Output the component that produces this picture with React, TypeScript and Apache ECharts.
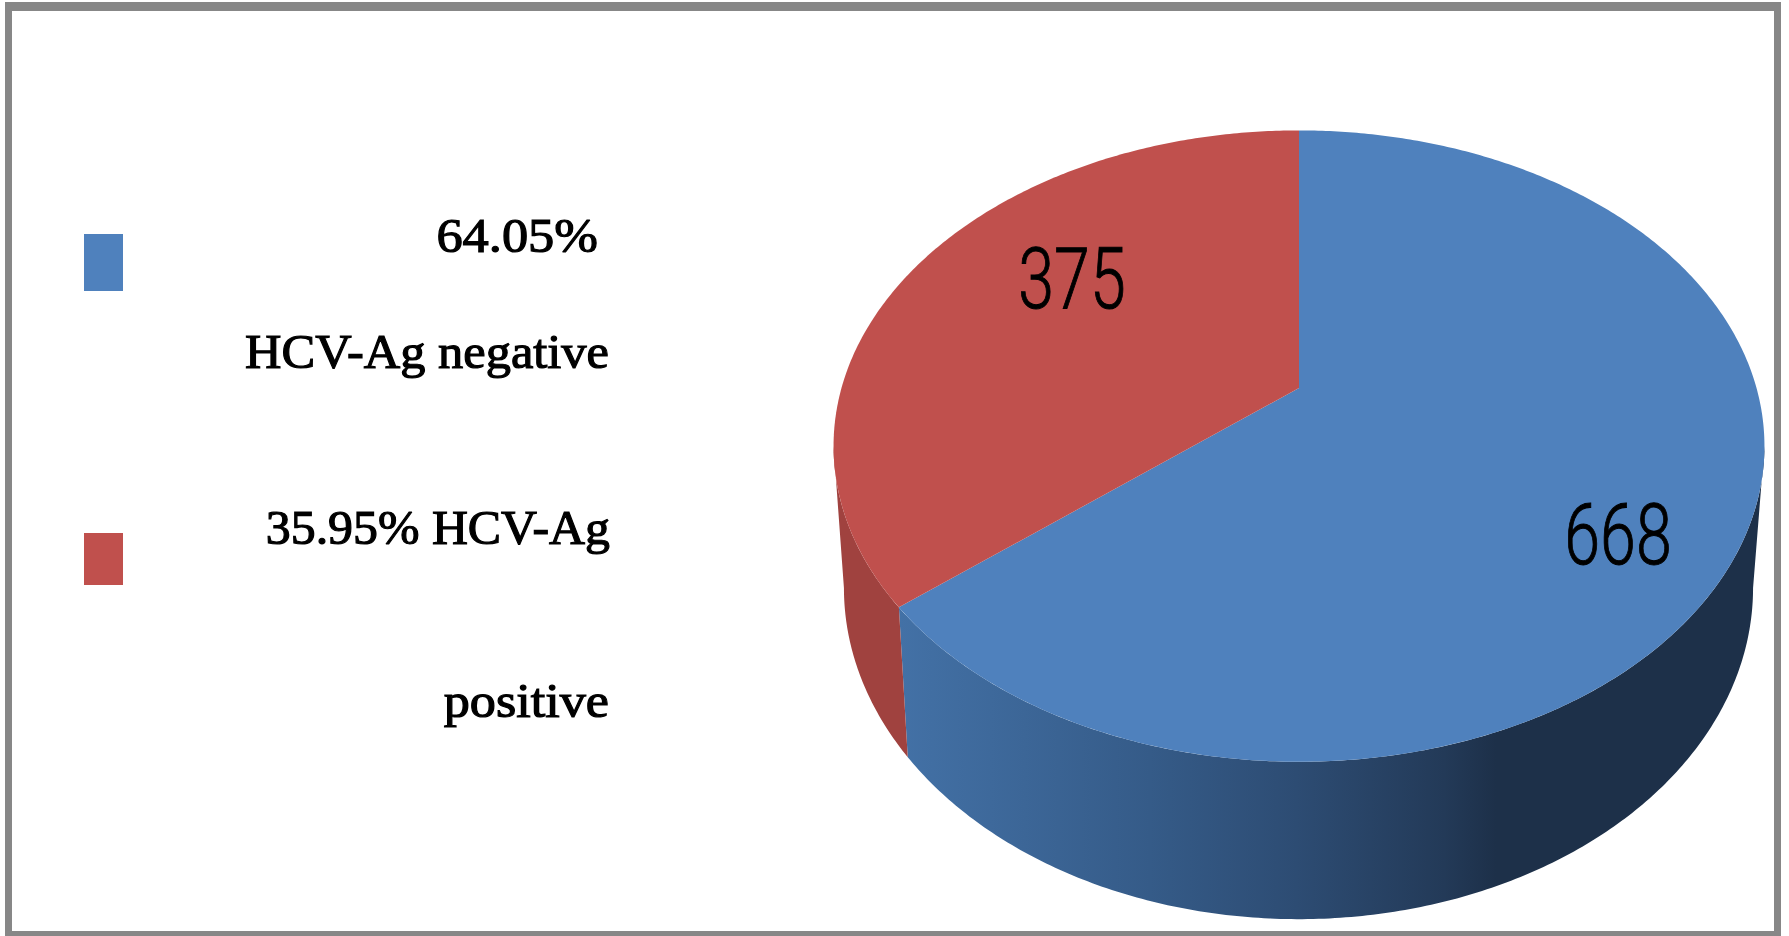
import React, { useEffect, useRef } from "react";
import * as echarts from "echarts";

// Slices, clockwise from twelve o'clock
const sliceNames = ["HCV-Ag negative", "HCV-Ag positive"];
const sliceValues = [668, 375];
const faceColors = ["#4F81BD", "#C0504D"];
const legendLines = ["64.05%", "HCV-Ag negative", "35.95% HCV-Ag", "positive"];

const WIDTH = 1789;
const HEIGHT = 936;

// Perspective disc: a point (u, v) on the unit circle lands at
// (cx + b*u/w, cy + a*v/w), with w = 1 - K*v.
const K = 0.184;
const TOP_RIM = { cx: 1299, cy: 388, a: 305, b: 457.5 };
const BOTTOM_RIM = { cx: 1298.5, cy: 527, a: 320, b: 446.8 };
const SILHOUETTE_RIGHT = Math.acos(-K);
const SILHOUETTE_LEFT = 2 * Math.PI - Math.acos(-K);

type Rim = typeof TOP_RIM;

function project(rim: Rim, theta: number, r = 1): number[] {
  const u = Math.sin(theta) * r;
  const v = -Math.cos(theta) * r;
  const w = 1 - K * v;
  return [rim.cx + (rim.b * u) / w, rim.cy + (rim.a * v) / w];
}

function arcPoints(rim: Rim, from: number, to: number): number[][] {
  const steps = Math.max(2, Math.ceil(Math.abs(to - from) / 0.01));
  const pts: number[][] = [];
  for (let i = 0; i <= steps; i++) pts.push(project(rim, from + ((to - from) * i) / steps));
  return pts;
}

function sliceRange(index: number): [number, number] {
  const total = sliceValues.reduce((s, v) => s + v, 0);
  const before = sliceValues.slice(0, index).reduce((s, v) => s + v, 0);
  return [(before / total) * 2 * Math.PI, ((before + sliceValues[index]) / total) * 2 * Math.PI];
}

const sideFills: any[] = [
  new echarts.graphic.LinearGradient(0, 0, 1, 0, [
    { offset: 0, color: "#4371A6" },
    { offset: 0.29, color: "#355B88" },
    { offset: 0.46, color: "#2D4C73" },
    { offset: 0.63, color: "#233A58" },
    { offset: 0.69, color: "#1D3049" },
    { offset: 1, color: "#1D3049" },
  ]),
  "#A0423F",
];

const valueLabelAt = [
  { x: 1618, y: 535 },
  { x: 1072, y: 279 },
];

function renderSide(params: any) {
  const [start, end] = sliceRange(params.dataIndex);
  const from = Math.max(start, SILHOUETTE_RIGHT);
  const to = Math.min(end, SILHOUETTE_LEFT);
  if (to <= from) return null;
  const points = [...arcPoints(TOP_RIM, from, to), ...arcPoints(BOTTOM_RIM, to, from)];
  return {
    type: "polygon",
    shape: { points },
    style: { fill: sideFills[params.dataIndex], stroke: null },
  };
}

function renderFace(params: any, api: any) {
  const i = params.dataIndex;
  const [start, end] = sliceRange(i);
  const points = [[TOP_RIM.cx, TOP_RIM.cy], ...arcPoints(TOP_RIM, start, end)];
  return {
    type: "group",
    children: [
      { type: "polygon", shape: { points }, style: { fill: faceColors[i] } },
      {
        type: "text",
        x: valueLabelAt[i].x,
        y: valueLabelAt[i].y,
        scaleX: 0.75,
        style: {
          text: String(api.value(0)),
          fontFamily: "Roboto",
          fontWeight: 300,
          fontSize: 86,
          fill: "#000000",
          stroke: "#000000",
          lineWidth: 1,
          textAlign: "center",
          textVerticalAlign: "middle",
        },
      },
    ],
  };
}

const FRAME = "#878787";
const legendLayout = [
  { right: 598, baseline: 260, scaleX: 1.07 },
  { right: 609, baseline: 376, scaleX: 1.03 },
  { right: 610, baseline: 552, scaleX: 1.017 },
  { right: 609, baseline: 725, scaleX: 1.065 },
];
const legendSwatches = [
  { x: 84, y: 234, width: 39, height: 57 },
  { x: 84, y: 533, width: 39, height: 52 },
];

function buildGraphics() {
  const bars = [
    { x: 5, y: 2, width: 1776, height: 9 },
    { x: 5, y: 931, width: 1776, height: 5 },
    { x: 5, y: 2, width: 7, height: 934 },
    { x: 1774, y: 2, width: 7, height: 934 },
  ].map((shape) => ({ type: "rect", shape, style: { fill: FRAME } }));

  const swatches = legendSwatches.map((shape, i) => ({
    type: "rect",
    shape,
    style: { fill: faceColors[i] },
  }));

  const lines = legendLines.map((text, i) => ({
    type: "text",
    x: legendLayout[i].right,
    y: legendLayout[i].baseline,
    scaleX: legendLayout[i].scaleX,
    style: {
      text,
      fontFamily: "Liberation Serif",
      fontSize: 49,
      fill: "#000000",
      stroke: "#000000",
      lineWidth: 1.2,
      textAlign: "right",
      textVerticalAlign: "bottom",
    },
  }));

  return [...bars, ...swatches, ...lines];
}

export default function App() {
  const ref = useRef<HTMLDivElement>(null);

  useEffect(() => {
    document.body.style.margin = "0";
    document.body.style.background = "#ffffff";
    const chart = echarts.init(ref.current!, undefined, { renderer: "svg" });
    const data = sliceNames.map((name, i) => ({ name, value: [sliceValues[i]] }));
    chart.setOption({
      animation: false,
      backgroundColor: "#ffffff",
      graphic: buildGraphics(),
      series: [
        { type: "custom", coordinateSystem: "none", silent: true, z: 1, data, renderItem: renderSide },
        { type: "custom", coordinateSystem: "none", silent: true, z: 2, data, renderItem: renderFace },
      ],
    });
    return () => chart.dispose();
  }, []);

  return <div ref={ref} style={{ width: WIDTH, height: HEIGHT, overflow: "hidden" }} />;
}
